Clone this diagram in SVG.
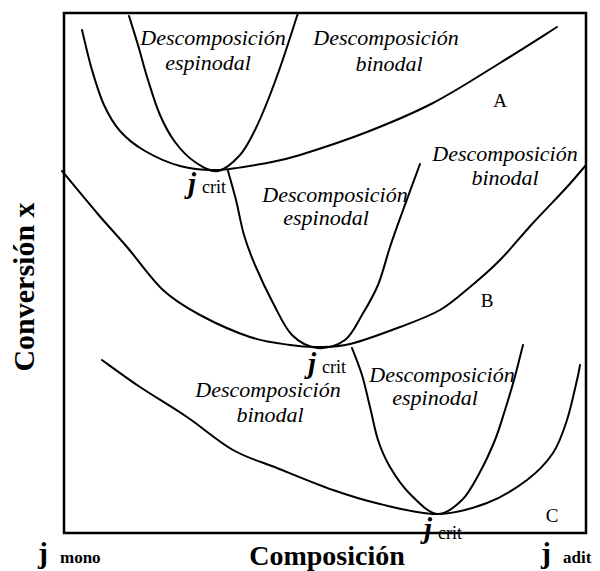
<svg xmlns="http://www.w3.org/2000/svg" width="600" height="571" viewBox="0 0 600 571">
<style>
.c{fill:none;stroke:#000;stroke-width:2;stroke-linejoin:round;stroke-linecap:round}
.lab{font-family:"Liberation Serif",serif;font-style:italic;font-size:22px;text-anchor:middle;fill:#000}
.let{font-family:"Liberation Serif",serif;font-size:19px;text-anchor:middle;fill:#000}
.jc{font-family:"Liberation Serif",serif;font-weight:bold;font-style:italic;font-size:29px;fill:#000}
.cr{font-family:"Liberation Serif",serif;font-size:18px;fill:#000}
.ax{font-family:"Liberation Serif",serif;font-weight:bold;font-size:28px;fill:#000}
.jb{font-family:"Liberation Serif",serif;font-weight:bold;font-size:30px;fill:#000}
.sb{font-family:"Liberation Serif",serif;font-weight:bold;font-size:17px;fill:#000}
</style>
<rect id="frame" x="64" y="13" width="522" height="520" fill="none" stroke="#000" stroke-width="2.5"/>
<g id="connectors">
<path id="binodalA" class="c" d="M82,30 C83.7,36.7 88.3,57.5 92,70 C95.7,82.5 99.3,94.8 104,105 C108.7,115.2 113.2,123.3 120,131 C126.8,138.7 135,145.2 145,151 C155,156.8 168,162.8 180,166 C192,169.2 202.5,170.5 217,170 C231.5,169.5 253.2,165.5 267,163 C280.8,160.5 283.3,160.2 300,155 C316.7,149.8 344.8,140.7 367,132 C389.2,123.3 410.8,114.5 433,103 C455.2,91.5 479.3,75.7 500,63 C520.7,50.3 547.5,33 557,27"/>
<path id="spinodalA" class="c" d="M129,16 C130.5,20.8 134.8,34.3 138,45 C141.2,55.7 144.3,68.3 148,80 C151.7,91.7 155.5,104.7 160,115 C164.5,125.3 169.2,134.2 175,142 C180.8,149.8 187.8,157.2 195,162 C202.2,166.8 210.5,172.2 218,171 C225.5,169.8 233.8,161.8 240,155 C246.2,148.2 250.3,139.2 255,130 C259.7,120.8 263.5,111.3 268,100 C272.5,88.7 277,76.5 282,62 C287,47.5 295.3,21.2 298,13"/>
<path id="binodalB" class="c" d="M62,171 C67.8,178 86.2,200.3 97,213 C107.8,225.7 116,234.2 127,247 C138,259.8 150.8,278.7 163,290 C175.2,301.3 185.5,307.2 200,315 C214.5,322.8 235,332 250,337 C265,342 278.7,343.3 290,345 C301.3,346.7 308,347.2 318,347 C328,346.8 336.3,347.3 350,344 C363.7,340.7 385,332.7 400,327 C415,321.3 428.3,316.7 440,310 C451.7,303.3 460,295.3 470,287 C480,278.7 489.5,270.7 500,260 C510.5,249.3 521.8,235.2 533,223 C544.2,210.8 558.2,196.7 567,187 C575.8,177.3 582.8,168.7 586,165"/>
<path id="spinodalB" class="c" d="M228,171 C229.3,175.8 233.3,189.3 236,200 C238.7,210.7 240.8,224.2 244,235 C247.2,245.8 250.2,253.7 255,265 C259.8,276.3 266.8,291.3 273,303 C279.2,314.7 284.5,327.5 292,335 C299.5,342.5 309.2,347.2 318,348 C326.8,348.8 337.7,345.5 345,340 C352.3,334.5 356.5,324.2 362,315 C367.5,305.8 373.3,296.3 378,285 C382.7,273.7 386,259 390,247 C394,235 397,226.8 402,213 C407,199.2 417,172.2 420,164"/>
<path id="binodalC" class="c" d="M102,360 C108.3,364.5 125.8,377.5 140,387 C154.2,396.5 171.5,406.5 187,417 C202.5,427.5 218,441.5 233,450 C248,458.5 260.3,461.3 277,468 C293.7,474.7 315.8,484 333,490 C350.2,496 362.7,500 380,504 C397.3,508 419.2,514.2 437,514 C454.8,513.8 472,508.7 487,503 C502,497.3 516,488.3 527,480 C538,471.7 546.3,463 553,453 C559.7,443 563,432.2 567,420 C571,407.8 574.8,389.2 577,380 C579.2,370.8 579.5,367.5 580,365"/>
<path id="spinodalC" class="c" d="M352,348 C353.7,352.5 359,365.2 362,375 C365,384.8 367.3,396.2 370,407 C372.7,417.8 374.7,430 378,440 C381.3,450 384.7,458 390,467 C395.3,476 402.2,486.2 410,494 C417.8,501.8 428.3,513 437,514 C445.7,515 454.8,507 462,500 C469.2,493 474.5,482 480,472 C485.5,462 490.8,450.3 495,440 C499.2,429.7 501.8,420 505,410 C508.2,400 511,390.8 514,380 C517,369.2 521.5,350.8 523,345"/>
</g>
<g id="regionA-spinodal"><text class="lab" x="213" y="45">Descomposición</text><text class="lab" x="208" y="70">espinodal</text></g>
<g id="regionA-binodal"><text class="lab" x="386" y="45">Descomposición</text><text class="lab" x="389" y="71">binodal</text></g>
<g id="regionB-spinodal"><text class="lab" x="335" y="202">Descomposición</text><text class="lab" x="326" y="225">espinodal</text></g>
<g id="regionB-binodal"><text class="lab" x="505" y="161">Descomposición</text><text class="lab" x="505" y="185">binodal</text></g>
<g id="regionC-binodal"><text class="lab" x="268" y="397">Descomposición</text><text class="lab" x="270" y="422">binodal</text></g>
<g id="regionC-spinodal"><text class="lab" x="442" y="382">Descomposición</text><text class="lab" x="435" y="405">espinodal</text></g>
<g id="labelA"><text class="let" x="500" y="107">A</text></g>
<g id="labelB"><text class="let" x="487" y="307">B</text></g>
<g id="labelC"><text class="let" x="552" y="522">C</text></g>
<g id="critA"><text class="jc" x="188" y="193">j</text><text class="cr" x="202" y="193">crit</text></g>
<g id="critB"><text class="jc" x="308" y="373">j</text><text class="cr" x="322" y="373">crit</text></g>
<g id="critC"><text class="jc" x="424" y="538">j</text><text class="cr" x="438" y="539">crit</text></g>
<g id="yaxis"><text class="ax" style="font-size:30px" transform="translate(34,287) rotate(-90)" text-anchor="middle">Conversión x</text></g>
<g id="xaxis"><text class="ax" x="327" y="565" text-anchor="middle">Composición</text></g>
<g id="jmono"><text class="jb" x="38" y="563">j</text><text class="sb" x="60" y="563">mono</text></g>
<g id="jadit"><text class="jb" x="541" y="563">j</text><text class="sb" x="563" y="563">adit</text></g>
</svg>
